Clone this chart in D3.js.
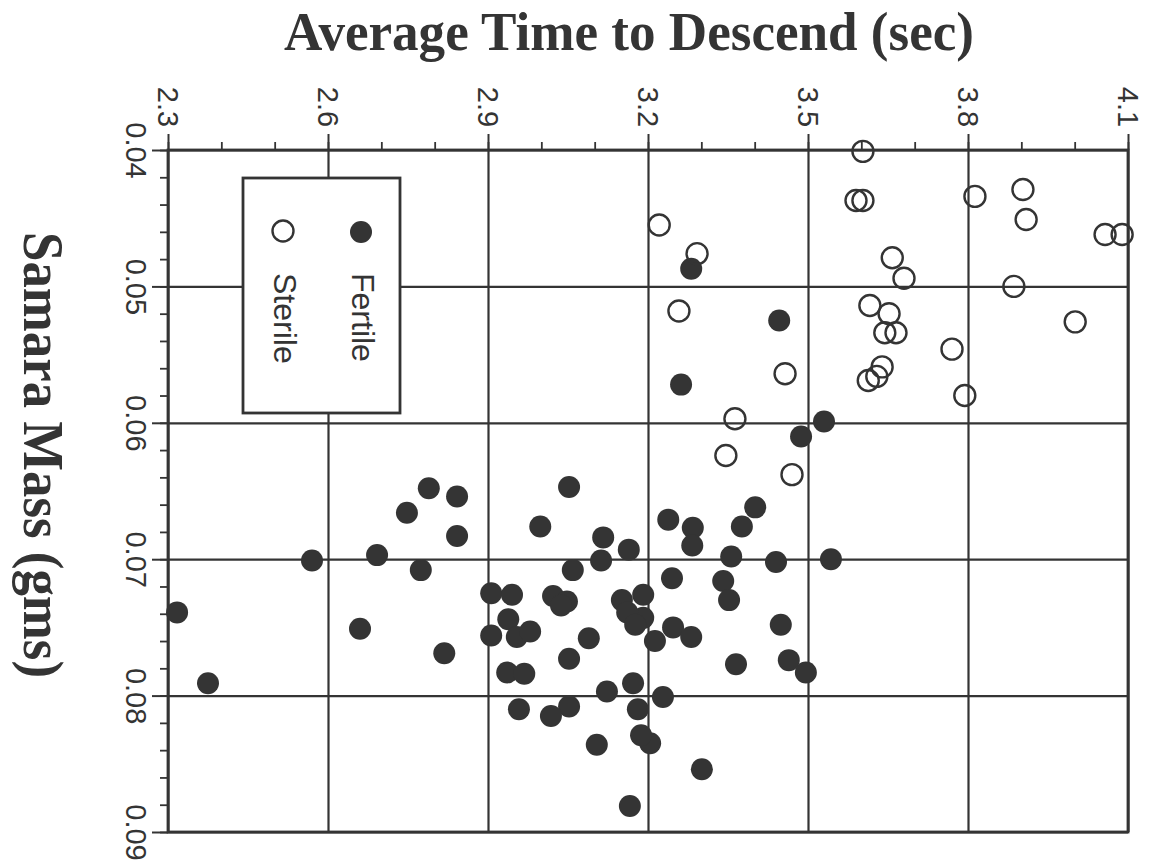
<!DOCTYPE html>
<html lang="en">
<head>
<meta charset="UTF-8">
<title>Samara Mass vs Average Time to Descend</title>
<style>
  html, body { margin: 0; padding: 0; background: #fff; }
  svg { display: block; }
</style>
</head>
<body>
<svg id="chart" width="1151" height="865"></svg>

<script src="https://cdnjs.cloudflare.com/ajax/libs/d3/7.8.5/d3.min.js"></script>
<script>
// tick values
var timeTicks = [2.3, 2.6, 2.9, 3.2, 3.5, 3.8, 4.1];
var massTicks = [0.04, 0.05, 0.06, 0.07, 0.08, 0.09];

// sterile samaras (open circles)
var sterileTime = [3.603, 3.590, 3.603, 3.813, 3.903, 3.909, 4.057, 4.089, 3.221, 3.292,
                   3.658, 3.680, 3.886, 3.258, 3.616, 3.652, 3.644, 3.665, 4.001, 3.770,
                   3.639, 3.629, 3.613, 3.457, 3.794, 3.363, 3.346, 3.470];
var sterileMass = [0.0401, 0.0437, 0.0437, 0.0434, 0.0429, 0.0451, 0.0462, 0.0462, 0.0455, 0.0476,
                   0.0479, 0.0494, 0.0500, 0.0518, 0.0514, 0.0520, 0.0534, 0.0534, 0.0526, 0.0546,
                   0.0559, 0.0566, 0.0569, 0.0564, 0.0580, 0.0597, 0.0624, 0.0638];

// fertile samaras (filled circles)
var fertileTime = [3.281, 3.446, 3.262, 3.530, 3.487, 3.401, 3.238, 3.284, 3.283, 3.376,
                   3.356, 3.440, 3.543, 3.245, 3.341, 3.352, 3.191, 3.191, 3.247, 3.281,
                   3.213, 3.449, 3.365, 3.464, 3.496, 3.228, 3.204, 3.301, 3.166,
                   2.789, 2.842, 2.748, 2.842, 3.052, 2.998, 3.116, 3.164, 3.112, 2.570,
                   2.692, 2.774, 3.059, 2.906, 2.945, 3.022, 3.048, 3.037, 3.151, 3.161,
                   3.176, 2.938, 2.906, 2.954, 2.979, 3.089, 2.317, 2.660, 2.818, 3.052,
                   2.936, 2.968, 2.375, 3.123, 3.172, 3.181, 2.958, 3.052, 3.018, 3.187, 3.104];
var fertileMass = [0.0487, 0.0525, 0.0572, 0.0599, 0.0610, 0.0662, 0.0671, 0.0677, 0.0690, 0.0676,
                   0.0698, 0.0702, 0.0700, 0.0714, 0.0716, 0.0730, 0.0726, 0.0743, 0.0750, 0.0757,
                   0.0760, 0.0748, 0.0777, 0.0774, 0.0783, 0.0801, 0.0835, 0.0854, 0.0881,
                   0.0648, 0.0654, 0.0666, 0.0683, 0.0647, 0.0676, 0.0684, 0.0693, 0.0701, 0.0701,
                   0.0697, 0.0708, 0.0708, 0.0725, 0.0726, 0.0727, 0.0731, 0.0734, 0.0730, 0.0739,
                   0.0748, 0.0744, 0.0756, 0.0757, 0.0753, 0.0758, 0.0739, 0.0751, 0.0769, 0.0773,
                   0.0783, 0.0784, 0.0791, 0.0797, 0.0791, 0.0810, 0.0810, 0.0808, 0.0815, 0.0829, 0.0836];

var ink = "#343434";
var svg = d3.select("#chart");
var plotL = 168, plotR = 1128, plotT = 150, plotB = 832;

var x = d3.scaleLinear().domain([2.3, 4.1]).range([plotL, plotR]);
var y = d3.scaleLinear().domain([0.04, 0.09]).range([plotT, plotB]);

svg.append("rect").attr("width", 1151).attr("height", 865).attr("fill", "#fff");

// gridlines
svg.append("g")
    .attr("transform", "translate(0," + plotT + ")")
    .call(d3.axisTop(x).tickValues(timeTicks).tickSize(-(plotB - plotT)).tickFormat(""))
    .call(function(g) { g.select(".domain").remove(); })
    .selectAll("line").attr("stroke", ink).attr("stroke-width", 2.2);

svg.append("g")
    .attr("transform", "translate(" + plotL + ",0)")
    .call(d3.axisLeft(y).tickValues(massTicks).tickSize(-(plotR - plotL)).tickFormat(""))
    .call(function(g) { g.select(".domain").remove(); })
    .selectAll("line").attr("stroke", ink).attr("stroke-width", 2.2);

// minor ticks
var minorTime = d3.range(23, 42).map(function(d) { return d / 10; });
var minorMass = d3.range(20, 46).map(function(d) { return d / 500; });

svg.append("g")
    .attr("transform", "translate(0," + plotT + ")")
    .call(d3.axisTop(x).tickValues(minorTime).tickSize(8).tickFormat(""))
    .call(function(g) { g.select(".domain").remove(); })
    .selectAll("line").attr("stroke", ink).attr("stroke-width", 1.8);

svg.append("g")
    .attr("transform", "translate(" + plotL + ",0)")
    .call(d3.axisLeft(y).tickValues(minorMass).tickSize(8).tickFormat(""))
    .call(function(g) { g.select(".domain").remove(); })
    .selectAll("line").attr("stroke", ink).attr("stroke-width", 1.8);

// major ticks with rotated labels
var xAxis = svg.append("g")
    .attr("transform", "translate(0," + plotT + ")")
    .call(d3.axisTop(x).tickValues(timeTicks).tickSize(16).tickFormat(d3.format(".1f")));
xAxis.select(".domain").remove();
xAxis.selectAll("line").attr("stroke", ink).attr("stroke-width", 2);
xAxis.selectAll("text")
    .attr("x", 0).attr("y", 0).attr("dy", "0.35em")
    .attr("transform", "translate(0,-43) rotate(90)")
    .attr("text-anchor", "middle")
    .attr("fill", ink)
    .style("font-family", "'Liberation Sans', Arial, sans-serif")
    .style("font-size", "29px");

var yAxis = svg.append("g")
    .attr("transform", "translate(" + plotL + ",0)")
    .call(d3.axisLeft(y).tickValues(massTicks).tickSize(16).tickFormat(d3.format(".2f")));
yAxis.select(".domain").remove();
yAxis.selectAll("line").attr("stroke", ink).attr("stroke-width", 2);
yAxis.selectAll("text")
    .attr("x", 0).attr("y", 0).attr("dy", "0.35em")
    .attr("transform", "translate(-32,0) rotate(90)")
    .attr("text-anchor", "middle")
    .attr("fill", ink)
    .style("font-family", "'Liberation Sans', Arial, sans-serif")
    .style("font-size", "29px");

// frame
svg.append("rect")
    .attr("x", plotL).attr("y", plotT)
    .attr("width", plotR - plotL).attr("height", plotB - plotT)
    .attr("fill", "none").attr("stroke", ink).attr("stroke-width", 2.8);

// points
var fertile = fertileTime.map(function(t, i) { return [t, fertileMass[i]]; });
var sterile = sterileTime.map(function(t, i) { return [t, sterileMass[i]]; });

svg.append("g").selectAll("circle")
    .data(fertile).enter().append("circle")
    .attr("cx", function(d) { return x(d[0]); })
    .attr("cy", function(d) { return y(d[1]); })
    .attr("r", 11)
    .attr("fill", ink);

svg.append("g").selectAll("circle")
    .data(sterile).enter().append("circle")
    .attr("cx", function(d) { return x(d[0]); })
    .attr("cy", function(d) { return y(d[1]); })
    .attr("r", 10.5)
    .attr("fill", "none")
    .attr("stroke", ink)
    .attr("stroke-width", 2.4);

// legend
var legend = svg.append("g");
legend.append("rect")
    .attr("x", 243).attr("y", 178).attr("width", 157).attr("height", 235)
    .attr("fill", "#fff").attr("stroke", ink).attr("stroke-width", 2.8);
legend.append("circle").attr("cx", 361).attr("cy", 232).attr("r", 11).attr("fill", ink);
legend.append("circle").attr("cx", 283).attr("cy", 231).attr("r", 10.5)
    .attr("fill", "none").attr("stroke", ink).attr("stroke-width", 2.4);
legend.selectAll("text.lab")
    .data([["Fertile", 363], ["Sterile", 285]])
    .enter().append("text")
    .attr("class", "lab")
    .attr("transform", function(d) { return "translate(" + d[1] + ",273) rotate(90)"; })
    .attr("dy", "0.35em")
    .attr("fill", ink)
    .style("font-family", "'Liberation Sans', Arial, sans-serif")
    .style("font-size", "32px")
    .text(function(d) { return d[0]; });

// axis titles
svg.append("text")
    .attr("x", 629).attr("y", 50)
    .attr("text-anchor", "middle")
    .attr("fill", ink)
    .attr("textLength", 690).attr("lengthAdjust", "spacingAndGlyphs")
    .style("font-family", "'Liberation Serif', 'Times New Roman', serif")
    .style("font-weight", "bold")
    .style("font-size", "54px")
    .text("Average Time to Descend (sec)");

svg.append("text")
    .attr("transform", "translate(24,455) rotate(90)")
    .attr("text-anchor", "middle")
    .attr("fill", ink)
    .attr("textLength", 446).attr("lengthAdjust", "spacingAndGlyphs")
    .style("font-family", "'Liberation Serif', 'Times New Roman', serif")
    .style("font-weight", "bold")
    .style("font-size", "56px")
    .text("Samara Mass (gms)");
</script>
</body>
</html>
